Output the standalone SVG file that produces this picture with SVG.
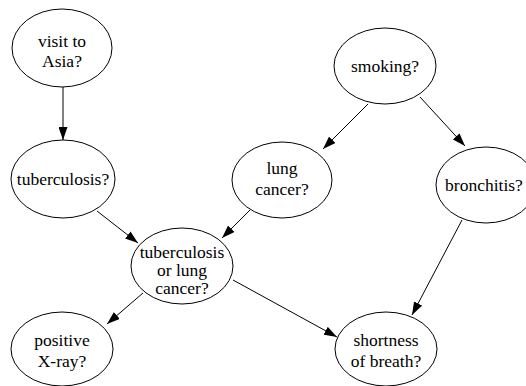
<svg xmlns="http://www.w3.org/2000/svg" width="526" height="386" viewBox="0 0 526 386">
  <defs>
    <marker id="arrow" markerUnits="userSpaceOnUse" markerWidth="13" markerHeight="9" refX="13" refY="4.5" orient="auto">
      <path d="M0,0 L13,4.5 L0,9 z" fill="#000"/>
    </marker>
    <style>
      .node ellipse { fill: #fff; stroke: #000; stroke-width: 1; }
      .node text { font-family: "Liberation Serif", "Times New Roman", serif; font-size: 17.5px; fill: #000; text-anchor: middle; }
      .edges line { stroke: #000; stroke-width: 1; marker-end: url(#arrow); }
    </style>
  </defs>
  <rect width="526" height="386" fill="#fff"/>

  <g class="edges">
    <line x1="63" y1="87" x2="63" y2="140"/>
    <line x1="368" y1="104" x2="323" y2="149"/>
    <line x1="420" y1="97" x2="465" y2="146"/>
    <line x1="97" y1="211" x2="138" y2="243"/>
    <line x1="250" y1="210" x2="222" y2="238"/>
    <line x1="143" y1="293" x2="107" y2="324"/>
    <line x1="233" y1="280" x2="337" y2="337"/>
    <line x1="462" y1="220" x2="412" y2="315"/>
  </g>

  <g id="asia" class="node">
    <ellipse cx="62" cy="48" rx="50" ry="39"/>
    <text x="62" y="47">visit to</text>
    <text x="62" y="67">Asia?</text>
  </g>
  <g id="smoking" class="node">
    <ellipse cx="385" cy="66" rx="51" ry="38"/>
    <text x="385" y="72">smoking?</text>
  </g>
  <g id="tuberculosis" class="node">
    <ellipse cx="63" cy="179" rx="52" ry="39"/>
    <text x="63" y="185">tuberculosis?</text>
  </g>
  <g id="lung" class="node">
    <ellipse cx="282" cy="180" rx="50" ry="38"/>
    <text x="282" y="174">lung</text>
    <text x="282" y="195">cancer?</text>
  </g>
  <g id="bronchitis" class="node">
    <ellipse cx="486" cy="185" rx="50" ry="38"/>
    <text x="484" y="191">bronchitis?</text>
  </g>
  <g id="either" class="node">
    <ellipse cx="182" cy="266" rx="51" ry="38"/>
    <text x="182" y="258">tuberculosis</text>
    <text x="182" y="276">or lung</text>
    <text x="182" y="294">cancer?</text>
  </g>
  <g id="xray" class="node">
    <ellipse cx="62" cy="349" rx="51" ry="37"/>
    <text x="62" y="346">positive</text>
    <text x="62" y="367">X-ray?</text>
  </g>
  <g id="dyspnoea" class="node">
    <ellipse cx="386" cy="349" rx="51" ry="37"/>
    <text x="386" y="346">shortness</text>
    <text x="386" y="367">of breath?</text>
  </g>
</svg>
